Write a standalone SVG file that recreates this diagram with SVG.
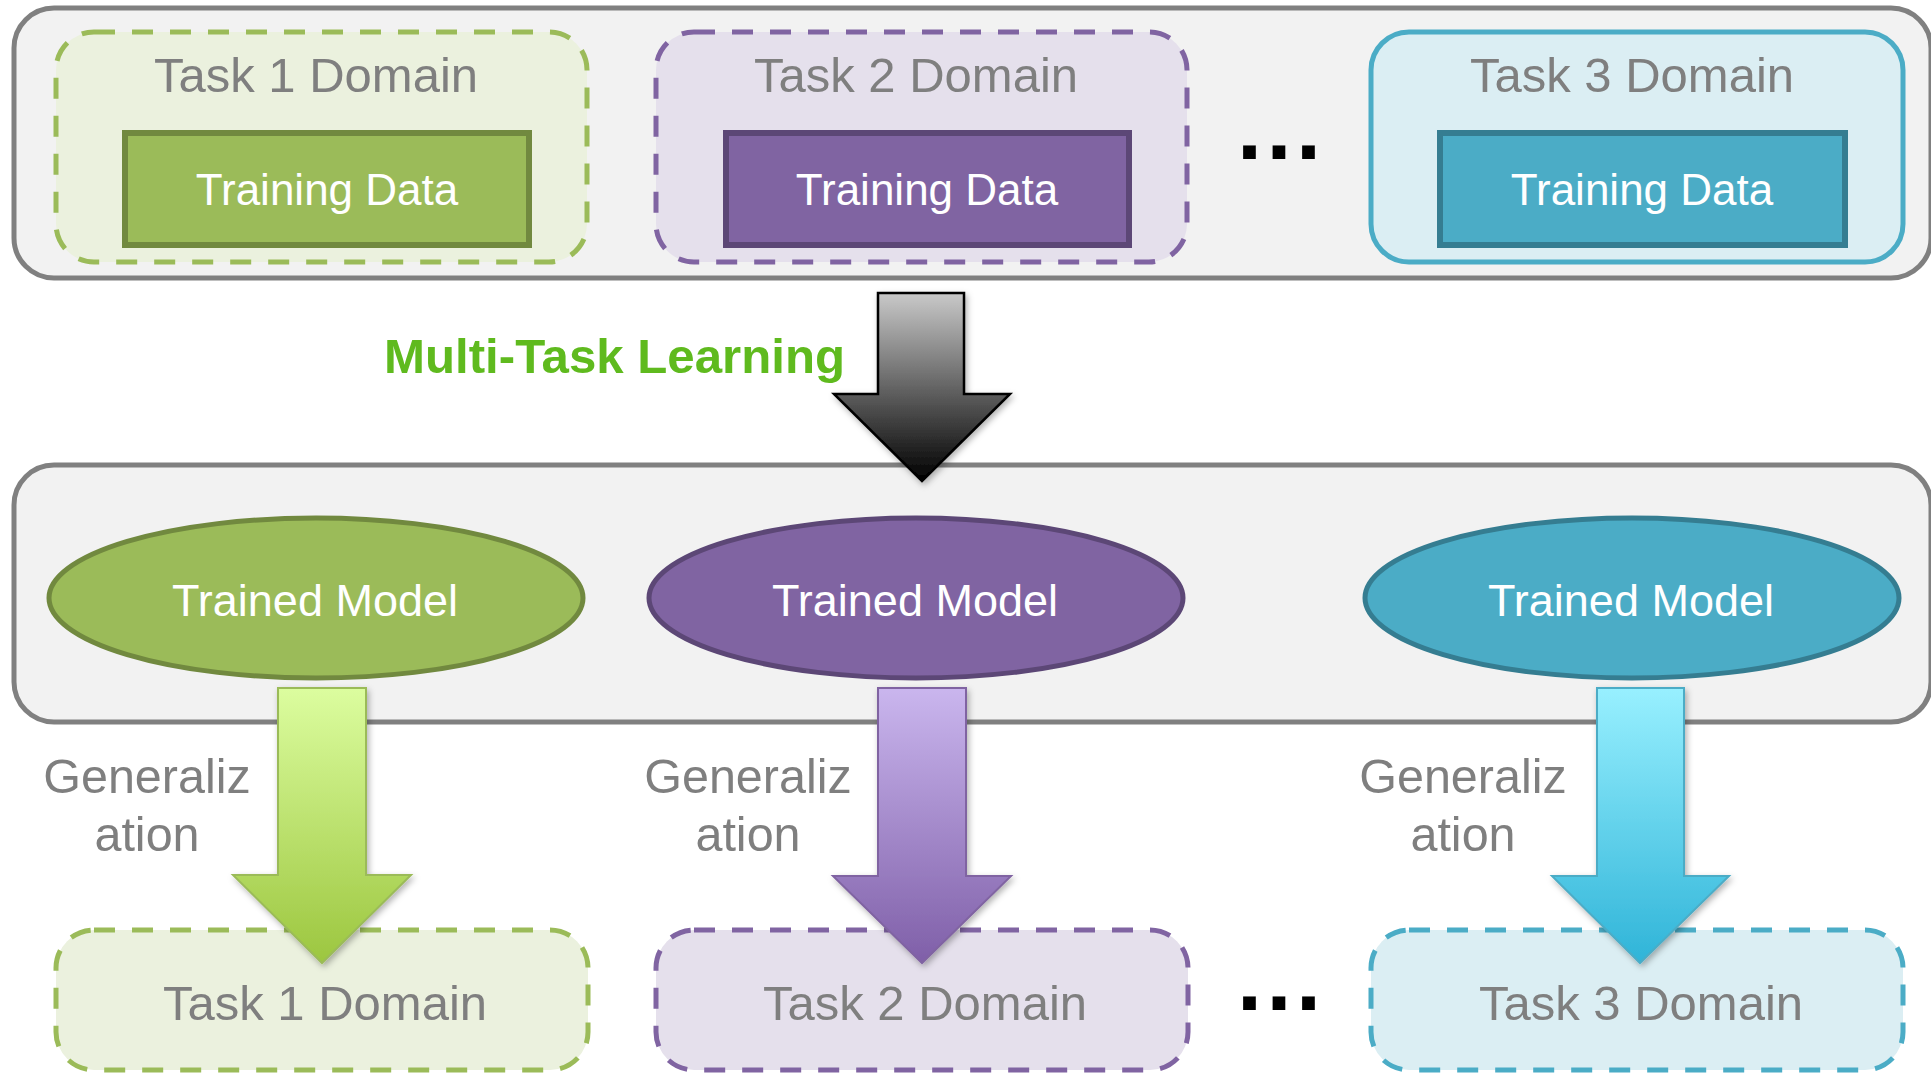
<svg xmlns="http://www.w3.org/2000/svg" width="1931" height="1074" viewBox="0 0 1931 1074">
<style>
.outer{fill:#f2f2f2;stroke:#808080;stroke-width:5}
.dash{stroke-width:5;stroke-dasharray:21 17}
.lbl{font-family:"Liberation Sans",Arial,sans-serif;font-size:49px;fill:#7f7f7f;text-anchor:middle}
.wt{font-family:"Liberation Sans",Arial,sans-serif;font-size:44px;fill:#ffffff;text-anchor:middle}
.wm{font-family:"Liberation Sans",Arial,sans-serif;font-size:45px;fill:#ffffff;text-anchor:middle}
.gen{font-family:"Liberation Sans",Arial,sans-serif;font-size:48.5px;fill:#7f7f7f;text-anchor:middle}
.dots{font-family:"Liberation Sans",Arial,sans-serif;font-weight:bold;font-size:90px;letter-spacing:4.5px;fill:#000}
</style>
<defs>
<linearGradient id="gGray" x1="0" y1="0" x2="0" y2="1"><stop offset="0" stop-color="#c9c9c9"/><stop offset="1" stop-color="#000000"/></linearGradient>
<linearGradient id="gGreen" x1="0" y1="0" x2="0" y2="1"><stop offset="0" stop-color="#dcfd9f"/><stop offset="1" stop-color="#9cc63f"/></linearGradient>
<linearGradient id="gPurple" x1="0" y1="0" x2="0" y2="1"><stop offset="0" stop-color="#cab6ee"/><stop offset="1" stop-color="#7f5fa8"/></linearGradient>
<linearGradient id="gTeal" x1="0" y1="0" x2="0" y2="1"><stop offset="0" stop-color="#98f0ff"/><stop offset="1" stop-color="#2fb4d8"/></linearGradient>
<filter id="sh" x="-20%" y="-20%" width="140%" height="140%"><feDropShadow dx="2" dy="3" stdDeviation="3" flood-color="#000" flood-opacity="0.3"/></filter>
</defs>

<g id="top-panel">
<rect class="outer" x="14" y="8" width="1917" height="270" rx="40"/>
</g>
<g id="bottom-panel">
<rect class="outer" x="14" y="465" width="1917" height="257" rx="40"/>
</g>

<g id="task1-domain-top">
<rect class="dash" x="56" y="32" width="531" height="230" rx="38" fill="#ebf1de" stroke="#9bbb59"/>
<text class="lbl" x="316" y="92">Task 1 Domain</text>
</g>
<g id="task1-training">
<rect x="125" y="133" width="404" height="112" fill="#9bbb59" stroke="#71893f" stroke-width="6"/>
<text class="wt" x="327" y="205">Training Data</text>
</g>
<g id="task2-domain-top">
<rect class="dash" x="656" y="32" width="531" height="230" rx="38" fill="#e5e0ec" stroke="#8064a2"/>
<text class="lbl" x="916" y="92">Task 2 Domain</text>
</g>
<g id="task2-training">
<rect x="726" y="133" width="403" height="112" fill="#8064a2" stroke="#5c4776" stroke-width="6"/>
<text class="wt" x="927" y="205">Training Data</text>
</g>
<g id="task3-domain-top">
<rect x="1371" y="32" width="532" height="230" rx="38" fill="#dbeef3" stroke="#4bacc6" stroke-width="5"/>
<text class="lbl" x="1632" y="92">Task 3 Domain</text>
</g>
<g id="task3-training">
<rect x="1440" y="133" width="405" height="112" fill="#4bacc6" stroke="#357d91" stroke-width="6"/>
<text class="wt" x="1642" y="205">Training Data</text>
</g>
<g id="dots-top"><text class="dots" x="1237" y="159">...</text></g>

<g id="model1">
<ellipse cx="316" cy="598" rx="267" ry="80" fill="#9bbb59" stroke="#71893f" stroke-width="5"/>
<text class="wm" x="315" y="616">Trained Model</text>
</g>
<g id="model2">
<ellipse cx="916" cy="598" rx="267" ry="80" fill="#8064a2" stroke="#5c4776" stroke-width="5"/>
<text class="wm" x="915" y="616">Trained Model</text>
</g>
<g id="model3">
<ellipse cx="1632" cy="598" rx="267" ry="80" fill="#4bacc6" stroke="#357d91" stroke-width="5"/>
<text class="wm" x="1631" y="616">Trained Model</text>
</g>

<g id="task1-domain-bottom">
<rect class="dash" x="56" y="930" width="532" height="140" rx="38" fill="#ebf1de" stroke="#9bbb59"/>
<text class="lbl" x="325" y="1020">Task 1 Domain</text>
</g>
<g id="task2-domain-bottom">
<rect class="dash" x="656" y="930" width="532" height="140" rx="38" fill="#e5e0ec" stroke="#8064a2"/>
<text class="lbl" x="925" y="1020">Task 2 Domain</text>
</g>
<g id="task3-domain-bottom">
<rect class="dash" x="1371" y="930" width="532" height="140" rx="38" fill="#dbeef3" stroke="#4bacc6"/>
<text class="lbl" x="1641" y="1020">Task 3 Domain</text>
</g>
<g id="dots-bottom"><text class="dots" x="1237" y="1010">...</text></g>

<g id="connectors">
<path d="M878,293 H964 V394 H1010 L922,481 L834,394 H878 Z" fill="url(#gGray)" stroke="#000" stroke-width="2.5" stroke-linejoin="miter" filter="url(#sh)"/>
<text x="384" y="373" font-family="'Liberation Sans',Arial,sans-serif" font-weight="bold" font-size="49" textLength="461" lengthAdjust="spacingAndGlyphs" fill="#5fba1e">Multi-Task Learning</text>
<path d="M278,688 H366 V875 H411 L322,963 L233,875 H278 Z" fill="url(#gGreen)" stroke="#9bbb59" stroke-width="2" filter="url(#sh)"/>
<path d="M878,688 H966 V876 H1011 L922,963 L833,876 H878 Z" fill="url(#gPurple)" stroke="#8064a2" stroke-width="2" filter="url(#sh)"/>
<path d="M1597,688 H1684 V876 H1729 L1640,963 L1552,876 H1597 Z" fill="url(#gTeal)" stroke="#4bacc6" stroke-width="2" filter="url(#sh)"/>
<text class="gen" x="147" y="793">Generaliz</text>
<text class="gen" x="147" y="851">ation</text>
<text class="gen" x="748" y="793">Generaliz</text>
<text class="gen" x="748" y="851">ation</text>
<text class="gen" x="1463" y="793">Generaliz</text>
<text class="gen" x="1463" y="851">ation</text>
</g>
</svg>
